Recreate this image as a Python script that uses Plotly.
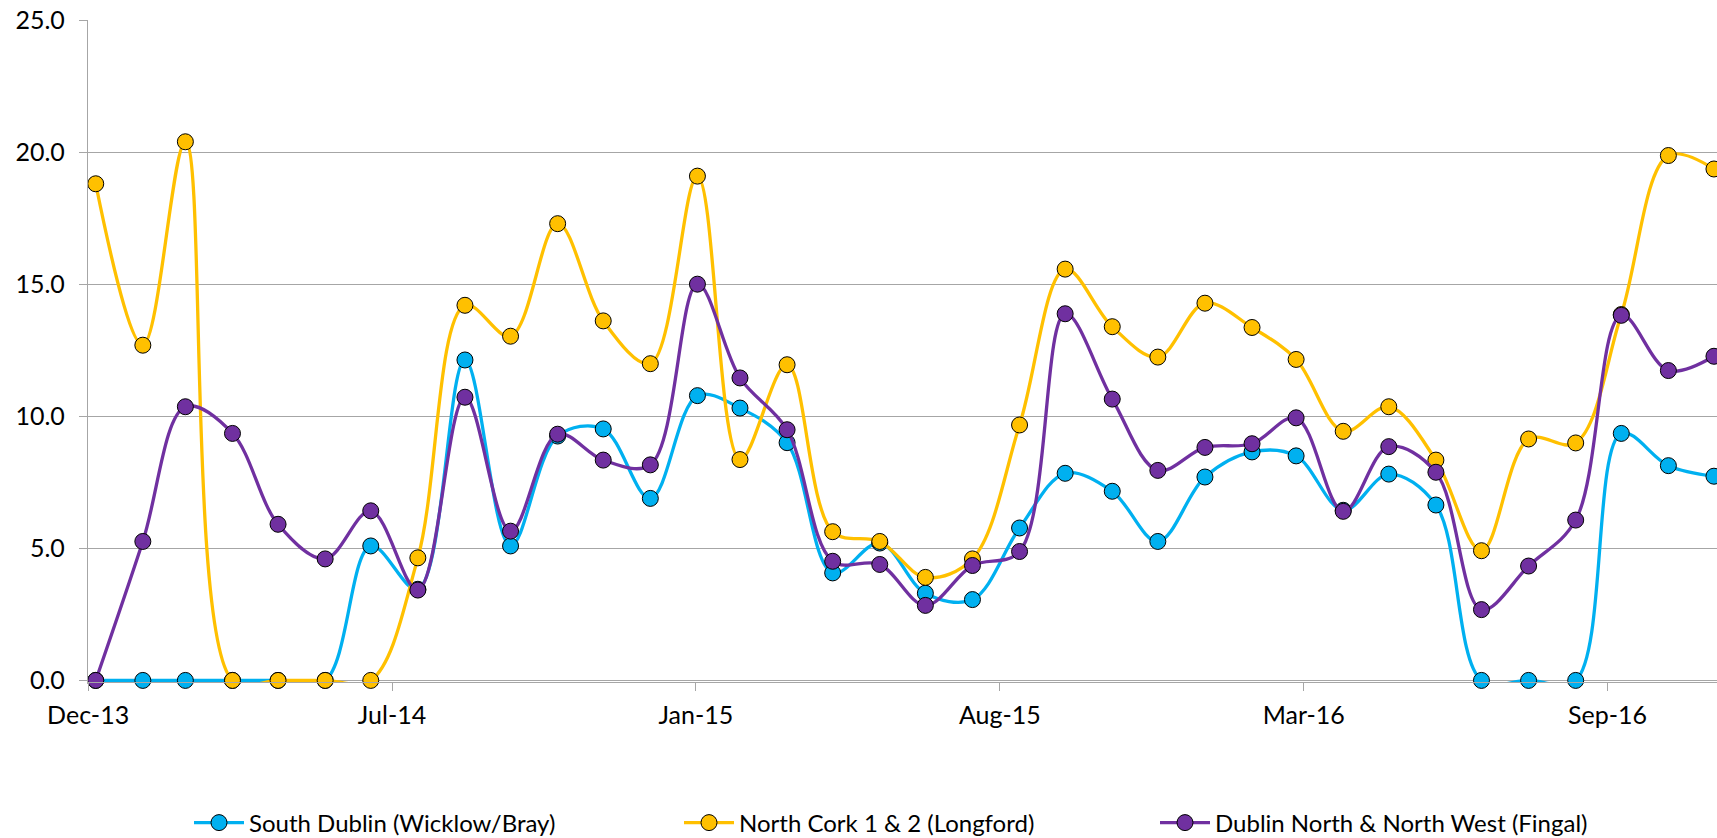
import plotly.graph_objects as go

dates = [
    "2014-01-01", "2014-02-01", "2014-03-01", "2014-04-01", "2014-05-01", "2014-06-01",
    "2014-07-01", "2014-08-01", "2014-09-01", "2014-10-01", "2014-11-01", "2014-12-01",
    "2015-01-01", "2015-02-01", "2015-03-01", "2015-04-01", "2015-05-01", "2015-06-01",
    "2015-07-01", "2015-08-01", "2015-09-01", "2015-10-01", "2015-11-01", "2015-12-01",
    "2016-01-01", "2016-02-01", "2016-03-01", "2016-04-01", "2016-05-01", "2016-06-01",
    "2016-07-01", "2016-08-01", "2016-09-01", "2016-10-01", "2016-11-01", "2016-12-01",
]

south_dublin = [
    0.0, 0.0, 0.0, 0.0, 0.0, 0.0,
    5.09, 3.45, 12.13, 5.09, 9.25, 9.52,
    6.89, 10.78, 10.31, 9.00, 4.07, 5.20,
    3.30, 3.06, 5.77, 7.84, 7.16, 5.26,
    7.70, 8.65, 8.50, 6.44, 7.81, 6.64,
    0.0, 0.0, 0.0, 9.35, 8.13, 7.73,
]

north_cork = [
    18.80, 12.69, 20.39, 0.0, 0.0, 0.0,
    0.0, 4.64, 14.20, 13.03, 17.29, 13.61,
    11.99, 19.09, 8.36, 11.95, 5.63, 5.26,
    3.90, 4.60, 9.67, 15.57, 13.39, 12.24,
    14.28, 13.36, 12.15, 9.43, 10.36, 8.34,
    4.91, 9.14, 8.99, 13.85, 19.87, 19.36,
]

dublin_north = [
    0.0, 5.26, 10.36, 9.35, 5.91, 4.60,
    6.42, 3.42, 10.72, 5.65, 9.32, 8.34,
    8.16, 15.00, 11.45, 9.49, 4.51, 4.39,
    2.84, 4.35, 4.88, 13.88, 10.65, 7.95,
    8.82, 8.96, 9.94, 6.40, 8.85, 7.88,
    2.68, 4.33, 6.07, 13.82, 11.73, 12.27,
]

series_names = [
    "South Dublin (Wicklow/Bray)",
    "North Cork 1 & 2 (Longford)",
    "Dublin North & North West (Fingal)",
]
series_values = [south_dublin, north_cork, dublin_north]
series_colors = ["#00B0F0", "#FFC000", "#7030A0"]
legend_ids = ["legend", "legend2", "legend3"]

y_tick_values = [0, 5, 10, 15, 20, 25]

FONT = "Lato"
GRID = "#A6A6A6"

fig = go.Figure()
for name, vals, col, lg in zip(series_names, series_values, series_colors, legend_ids):
    fig.add_trace(go.Scatter(
        x=dates, y=vals, name=name, mode="lines+markers",
        line=dict(color=col, width=3.3, shape="spline", smoothing=1.0),
        marker=dict(size=16, color=col, line=dict(color="#000000", width=1)),
        cliponaxis=False,
        legend=lg,
    ))

legend_common = dict(
    orientation="h", yanchor="middle", xanchor="left",
    font=dict(family=FONT, size=24, color="#000000"),
    bgcolor="rgba(0,0,0,0)", itemwidth=50,
)

fig.update_layout(
    width=1717, height=838,
    margin=dict(l=88, r=0, t=20, b=156, autoexpand=False),
    paper_bgcolor="white", plot_bgcolor="white",
    font=dict(family=FONT, color="#000000"),
    showlegend=True,
    legend=dict(x=(189 - 88) / 1629, y=-0.213, **legend_common),
    legend2=dict(x=(679 - 88) / 1629, y=-0.213, **legend_common),
    legend3=dict(x=(1155 - 88) / 1629, y=-0.213, **legend_common),
    xaxis=dict(
        type="date",
        range=["2013-12-26 22:00", "2016-12-03"],
        tick0="2013-12-27", dtick=200 * 86400000,
        tickformat="%b-%y",
        showgrid=False, zeroline=False, automargin=False,
        showline=True, linecolor=GRID, linewidth=1.3,
        ticks="outside", ticklen=8, tickcolor=GRID, tickwidth=1.3,
        tickfont=dict(family=FONT, size=25, color="#000000"),
        ticklabelstandoff=3,
    ),
    yaxis=dict(
        range=[-0.06, 25],
        tickvals=y_tick_values, tickformat=".1f",
        showgrid=True, gridcolor=GRID, gridwidth=1.3,
        zeroline=False, automargin=False,
        showline=True, linecolor=GRID, linewidth=1.3,
        ticks="outside", ticklen=8, tickcolor=GRID, tickwidth=1.3,
        tickfont=dict(family=FONT, size=25, color="#000000"),
        ticklabelstandoff=9,
    ),
)

fig.write_html("out.html")
